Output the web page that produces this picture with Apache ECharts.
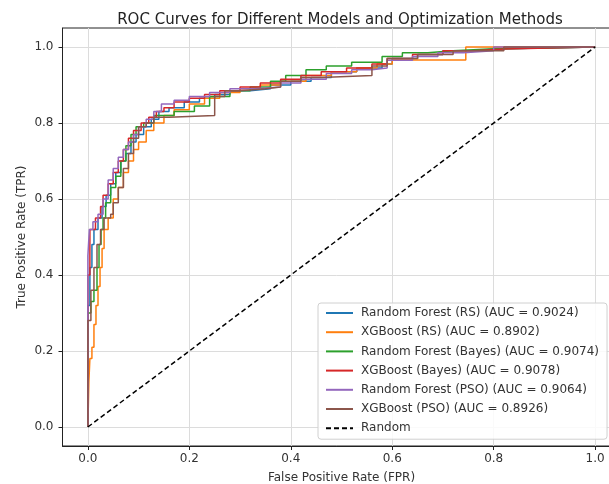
<!DOCTYPE html>
<html>
<head>
<meta charset="utf-8">
<script src="https://cdn.jsdelivr.net/npm/echarts@6/dist/echarts.min.js"></script>
<style>
  html, body { margin: 0; padding: 0; background: #fff; }
  #chart { width: 609px; height: 484px; }
</style>
</head>
<body>
<div id="chart"></div>
<script>
// model labels and their AUC scores
var modelNames = ['Random Forest (RS)', 'XGBoost (RS)', 'Random Forest (Bayes)',
                  'XGBoost (Bayes)', 'Random Forest (PSO)', 'XGBoost (PSO)'];
var aucValues = [0.9024, 0.8902, 0.9074, 0.9078, 0.9064, 0.8926];
var tickValues = [0, 0.2, 0.4, 0.6, 0.8, 1.0];

// ROC corner points [fpr, tpr]
var rfRs = [[0,0],[0,0.32],[0.004,0.42],[0.008,0.48],[0.012,0.52],[0.02,0.55],[0.028,0.58],
  [0.036,0.61],[0.045,0.64],[0.055,0.67],[0.065,0.70],[0.075,0.72],[0.085,0.75],[0.095,0.77],
  [0.11,0.79],[0.125,0.81],[0.14,0.83],[0.16,0.84],[0.19,0.855],[0.22,0.865],[0.25,0.875],
  [0.28,0.885],[0.32,0.89],[0.36,0.90],[0.40,0.91],[0.44,0.92],[0.48,0.935],[0.53,0.945],
  [0.58,0.955],[0.60,0.97],[0.65,0.98],[0.70,0.99],[0.77,0.995],[0.80,1.0],[1.0,1.0]];
var xgbRs = [[0,0],[0.002,0.12],[0.004,0.18],[0.008,0.21],[0.012,0.27],[0.016,0.32],[0.02,0.37],
  [0.024,0.42],[0.028,0.47],[0.032,0.52],[0.04,0.55],[0.05,0.60],[0.06,0.63],[0.07,0.67],
  [0.08,0.70],[0.09,0.73],[0.10,0.75],[0.115,0.78],[0.13,0.80],[0.15,0.82],[0.17,0.835],
  [0.20,0.85],[0.23,0.865],[0.26,0.88],[0.30,0.89],[0.34,0.90],[0.38,0.91],[0.43,0.925],
  [0.48,0.935],[0.53,0.945],[0.57,0.955],[0.60,0.966],[0.745,1.0],[1.0,1.0]];
var rfBayes = [[0,0],[0,0.30],[0.006,0.33],[0.012,0.36],[0.018,0.42],[0.022,0.48],[0.026,0.52],
  [0.03,0.55],[0.035,0.59],[0.045,0.63],[0.055,0.66],[0.065,0.70],[0.075,0.74],[0.085,0.77],
  [0.095,0.79],[0.11,0.80],[0.13,0.82],[0.17,0.83],[0.21,0.845],[0.24,0.87],[0.28,0.885],
  [0.32,0.895],[0.36,0.91],[0.39,0.925],[0.43,0.94],[0.47,0.95],[0.52,0.96],[0.58,0.975],
  [0.62,0.985],[0.67,0.99],[0.72,0.995],[0.79,1.0],[1.0,1.0]];
var xgbBayes = [[0,0],[0,0.40],[0.004,0.52],[0.015,0.55],[0.025,0.58],[0.03,0.61],[0.04,0.64],
  [0.05,0.67],[0.06,0.70],[0.07,0.73],[0.08,0.76],[0.09,0.78],[0.105,0.80],[0.12,0.815],
  [0.135,0.83],[0.15,0.84],[0.17,0.855],[0.20,0.865],[0.23,0.875],[0.26,0.885],[0.30,0.895],
  [0.34,0.905],[0.38,0.915],[0.42,0.925],[0.46,0.935],[0.51,0.945],[0.56,0.955],[0.59,0.97],
  [0.64,0.98],[0.70,0.99],[0.76,0.995],[0.82,1.0],[1.0,1.0]];
var rfPso = [[0,0],[0,0.45],[0.003,0.52],[0.01,0.54],[0.02,0.56],[0.03,0.60],[0.04,0.65],
  [0.05,0.68],[0.06,0.71],[0.07,0.73],[0.08,0.75],[0.09,0.77],[0.10,0.79],[0.115,0.81],
  [0.13,0.83],[0.145,0.85],[0.17,0.86],[0.20,0.87],[0.24,0.88],[0.28,0.89],[0.33,0.895],
  [0.38,0.905],[0.42,0.915],[0.47,0.93],[0.52,0.94],[0.56,0.945],[0.59,0.965],[0.64,0.975],
  [0.69,0.985],[0.74,0.99],[0.80,1.0],[1.0,1.0]];
var xgbPso = [[0,0],[0,0.28],[0.006,0.36],[0.012,0.42],[0.018,0.48],[0.025,0.52],[0.032,0.55],
  [0.045,0.56],[0.05,0.59],[0.06,0.63],[0.07,0.68],[0.08,0.72],[0.09,0.76],[0.10,0.79],
  [0.115,0.80],[0.13,0.815],[0.16,0.82],[0.25,0.87],[0.27,0.885],[0.30,0.89],[0.35,0.895],
  [0.38,0.91],[0.42,0.92],[0.46,0.925],[0.56,0.95],[0.59,0.97],[0.65,0.98],[0.72,0.99],
  [0.82,1.0],[1.0,1.0]];
var randomLine = [[0,0],[1,1]];

var curves = [rfRs, xgbRs, rfBayes, xgbBayes, rfPso, xgbPso];
var colors = ['#1f77b4', '#ff7f0e', '#2ca02c', '#d62728', '#9467bd', '#8c564b'];

var chart = echarts.init(document.getElementById('chart'), null, { renderer: 'canvas' });
var font = 'DejaVu Sans';

var series = curves.map(function(pts, i) {
  return {
    name: modelNames[i] + ' (AUC = ' + aucValues[i].toFixed(4) + ')',
    type: 'line',
    step: 'end',
    data: pts,
    symbol: 'none',
    animation: false,
    lineStyle: { color: colors[i], width: 1.5 },
    itemStyle: { color: colors[i] }
  };
});
series.push({
  name: 'Random',
  type: 'line',
  data: randomLine,
  symbol: 'none',
  animation: false,
  lineStyle: { color: '#000', width: 1.5, type: [5, 3] },
  itemStyle: { color: '#000' }
});

function axisCommon(name, gap, margin) {
  return {
    type: 'value',
    min: -0.05,
    max: 1.05,
    name: name,
    nameLocation: 'middle',
    nameGap: gap,
    nameMoveOverlap: false,
    nameTextStyle: { fontFamily: font, fontSize: 12, color: '#333' },
    axisLine: { show: true, onZero: false, lineStyle: { color: '#222', width: 1 } },
    axisTick: { show: true, length: 4, customValues: tickValues, lineStyle: { color: '#222' } },
    axisLabel: {
      customValues: tickValues, margin: margin, fontFamily: font, fontSize: 12, color: '#333',
      formatter: function(v) { return v.toFixed(1); }
    },
    splitLine: { show: true, lineStyle: { color: '#dcdcdc', width: 1 } }
  };
}

var option = {
  backgroundColor: '#fff',
  title: {
    text: 'ROC Curves for Different Models and Optimization Methods',
    left: 335, top: 8, textAlign: 'center',
    textStyle: { fontFamily: font, fontSize: 15, fontWeight: 'normal', color: '#222' }
  },
  grid: {
    left: 62.5, width: 558, top: 28, height: 418, outerBoundsMode: 'none',
    show: true, borderColor: '#222', borderWidth: 1
  },
  xAxis: axisCommon('False Positive Rate (FPR)', 26, 7),
  yAxis: axisCommon('True Positive Rate (TPR)', 34.5, 9),
  legend: {
    orient: 'vertical',
    left: 318, top: 303,
    padding: [4, 8, 5, 7],
    itemWidth: 27, itemHeight: 10, itemGap: 7.2,
    itemStyle: { opacity: 0 },
    backgroundColor: 'rgba(255,255,255,0.85)',
    borderColor: '#d0d0d0', borderWidth: 1, borderRadius: 3,
    textStyle: { fontFamily: font, fontSize: 12, color: '#333', padding: [0, 0, 0, 3], lineHeight: 12 },
    data: series.map(function(s) { return s.name; })
  },
  series: series
};
chart.setOption(option);
</script>
</body>
</html>
